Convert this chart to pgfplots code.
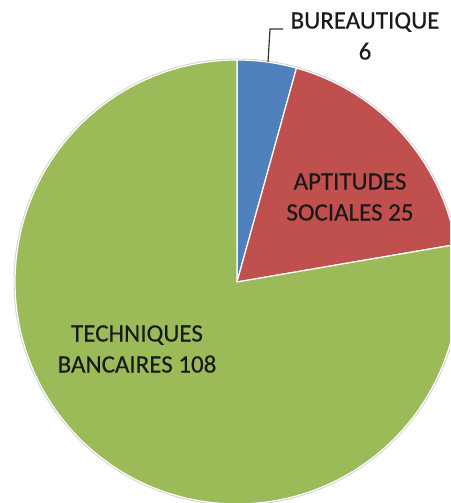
\documentclass[border=0pt]{standalone}
\usepackage{pgfplots}
\pgfplotsset{compat=1.18}
\usepackage{fontspec}
\setmainfont{Carlito}[FakeBold=0.3]
\definecolor{cblue}{HTML}{4F81BD}
\definecolor{cred}{HTML}{C0504D}
\definecolor{cgreen}{HTML}{9BBB59}
\begin{document}
\begin{tikzpicture}
% values
\def\va{6}\def\vb{25}\def\vc{108}
\pgfmathsetmacro{\tot}{\va+\vb+\vc}
\pgfmathsetmacro{\aA}{90}
\pgfmathsetmacro{\aB}{90-\va/\tot*360}
\pgfmathsetmacro{\aC}{\aB-\vb/\tot*360}
\pgfmathsetmacro{\aD}{\aC-\vc/\tot*360}
\def\cx{237}\def\cy{221}\def\R{222}
\begin{axis}[
  name=ax,
  width=450pt, height=503pt, scale only axis,
  xmin=0, xmax=450, ymin=0, ymax=503,
  hide axis, clip=true,
]
\addplot[fill=gray!60, draw=none, opacity=0.6, domain=0:360, samples=200]
  ({\cx+(\R+1.5)*cos(x)},{\cy+(\R+1.5)*sin(x)}) -- cycle;
\addplot[fill=cblue, draw=white, line width=1.2pt, domain=\aB:\aA, samples=40]
  ({\cx+\R*cos(x)},{\cy+\R*sin(x)}) -- (axis cs:\cx,\cy) -- cycle;
\addplot[fill=cred, draw=white, line width=1.2pt, domain=\aC:\aB, samples=80]
  ({\cx+\R*cos(x)},{\cy+\R*sin(x)}) -- (axis cs:\cx,\cy) -- cycle;
\addplot[fill=cgreen, draw=white, line width=1.2pt, domain=\aD:\aC, samples=240]
  ({\cx+\R*cos(x)},{\cy+\R*sin(x)}) -- (axis cs:\cx,\cy) -- cycle;
\draw[black!80, line width=1.2pt] (axis cs:268,441) -- (axis cs:270,474) -- (axis cs:283,474);
\node[align=center, font=\fontsize{25}{31}\selectfont, text=black!90] at (axis cs:365,467) {BUREAUTIQUE\\6};
\node[align=center, font=\fontsize{25}{31}\selectfont, text=black!90] at (axis cs:350,306) {APTITUDES\\SOCIALES 25};
\node[align=center, font=\fontsize{25}{31}\selectfont, text=black!90] at (axis cs:137,154) {TECHNIQUES\\BANCAIRES 108};
\end{axis}
\pgfresetboundingbox
\path[use as bounding box] (ax.south west) rectangle (ax.north east);
\end{tikzpicture}
\end{document}
